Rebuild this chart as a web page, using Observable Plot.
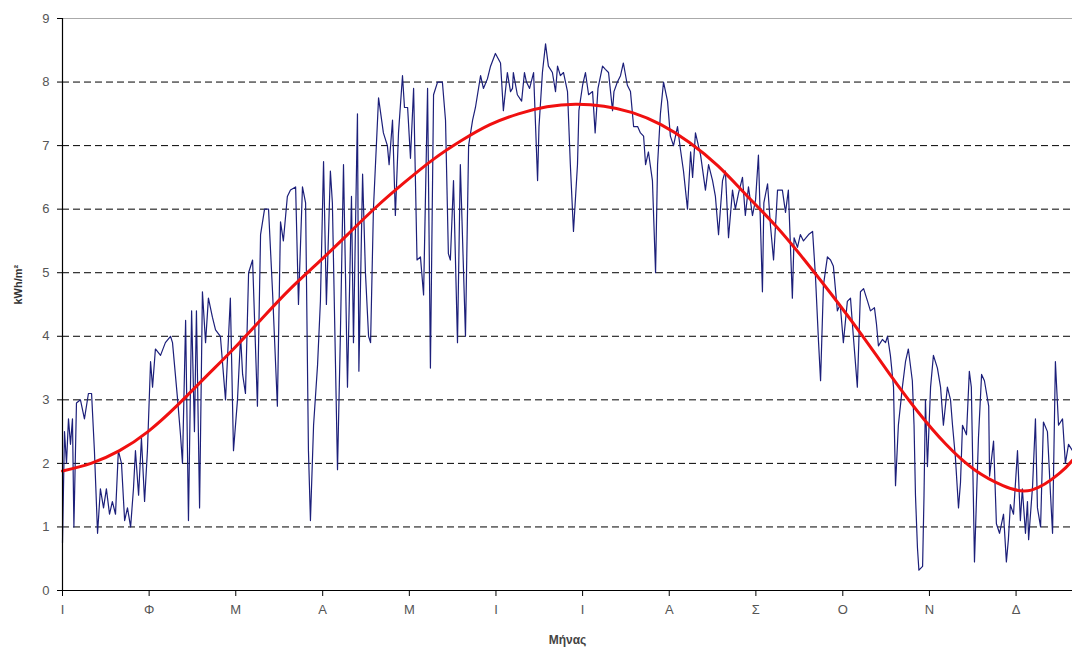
<!DOCTYPE html>
<html><head><meta charset="utf-8">
<script src="https://cdn.jsdelivr.net/npm/d3@7"></script>
<script src="https://cdn.jsdelivr.net/npm/@observablehq/plot@0.6"></script>
<style>
body{margin:0;background:#fff;font-family:"Liberation Sans",Arial,sans-serif;}
#chart svg{display:block;}
</style>
</head><body><div id="chart"></div>
<script>
// Month tick labels (Greek initials) and their positions (day of year)
const monthLabels = ["Ι","Φ","Μ","Α","Μ","Ι","Ι","Α","Σ","Ο","Ν","Δ"];
const monthDays = [0,30.4,60.8,91.3,121.7,152.1,182.5,212.9,243.3,273.8,304.2,334.6];
const yTicks = [0,1,2,3,4,5,6,7,8,9];
const gridValues = [1,2,3,4,5,6,7,8];

// Daily radiation trace (vertices): day of year, kWh/m²
const dailyDay = [0,0.7,1.4,2.1,2.8,3.5,4.0,4.9,6.3,7.7,9.1,10.2,11.2,12.3,13.3,14.4,15.4,16.5,17.5,18.6,19.6,20.7,21.8,22.8,23.9,24.9,25.6,26.7,27.7,28.8,29.8,
30.9,31.6,32.6,34.4,36.1,37.9,38.6,40.4,41.4,42.1,43.2,44.2,45.3,46.3,47.0,48.1,49.1,50.2,51.2,52.6,53.7,55.4,57.2,58.9,60.0,
61.4,62.5,63.2,64.2,65.3,66.7,68.4,69.5,70.9,72.3,73.7,75.4,76.5,77.5,78.9,80.0,81.8,82.8,84.2,85.3,86.3,87.0,88.1,89.5,90.5,
91.6,92.6,94.0,94.7,96.5,97.5,98.6,100.0,101.4,102.1,103.5,104.0,105.3,106.3,107.4,108.1,109.1,110.9,112.6,114.0,114.6,115.8,116.8,117.9,119.3,120.0,121.1,
122.1,123.2,124.4,125.6,126.7,128.1,129.1,130.2,131.6,133.3,134.4,135.4,136.1,137.2,138.6,139.6,141.4,142.5,143.9,144.9,146.7,147.7,149.1,150.2,151.9,
153.7,154.7,156.1,157.2,157.9,158.2,159.6,161.1,162.1,162.8,163.9,165.3,166.7,167.2,168.4,169.5,170.5,171.9,173.0,173.7,174.7,175.8,177.2,178.2,179.3,180.7,181.2,182.5,
183.5,184.6,186.0,186.9,187.9,189.5,190.5,191.6,193.0,193.5,194.7,195.8,196.8,198.2,199.3,200.4,201.8,202.8,203.9,204.6,205.6,207.0,208.1,208.8,209.8,210.9,212.3,
213.3,214.4,215.8,216.8,217.9,219.3,220.4,221.1,222.1,223.9,225.6,226.7,228.1,229.1,230.2,231.6,232.6,233.7,235.1,236.1,237.2,238.6,239.6,240.7,242.1,
243.2,244.2,245.6,246.1,247.4,248.4,249.5,250.9,252.6,253.7,254.7,256.1,256.7,257.9,258.9,260.0,261.8,263.2,264.2,265.3,266.0,267.0,268.4,269.5,270.5,271.9,272.9,
274.0,275.4,276.5,277.5,278.9,280.0,281.1,282.5,283.5,284.9,285.6,286.3,287.7,288.8,289.5,290.5,291.6,292.3,293.3,294.7,295.8,296.8,298.2,298.8,299.3,300.0,300.5,301.8,302.3,302.8,303.5,
304.6,305.6,307.0,308.1,309.1,310.5,311.6,312.3,313.3,314.4,315.1,315.8,317.2,318.2,318.9,319.6,320.0,321.4,322.5,323.5,325.0,325.3,326.7,327.7,328.8,330.2,331.2,331.9,332.6,333.7,
335.1,336.1,336.8,337.9,338.6,339.0,340.4,341.4,342.1,343.2,344.2,345.6,346.7,347.4,348.4,349.5,350.9,351.9,353.0,354.4];
const dailyValue = [0.75,2.5,2.0,2.7,2.3,2.7,1.0,2.95,3.0,2.7,3.1,3.1,2.2,0.9,1.6,1.3,1.6,1.2,1.4,1.2,2.2,2.0,1.1,1.3,1.0,1.6,2.2,1.5,2.4,1.4,2.2,
3.6,3.2,3.8,3.7,3.9,4.0,3.9,3.0,2.45,2.0,4.25,1.1,4.4,2.5,4.4,1.3,4.7,3.9,4.6,4.3,4.1,4.0,3.0,4.6,2.2,
3.0,4.0,3.4,3.1,5.0,5.2,2.9,5.6,6.0,6.0,4.7,2.9,5.8,5.5,6.2,6.3,6.35,4.5,6.35,6.1,2.2,1.1,2.6,3.55,4.55,
6.75,4.5,6.6,6.1,1.9,4.0,6.7,3.2,6.2,3.9,7.5,3.45,6.55,5.0,4.0,3.9,6.0,7.75,7.2,7.0,6.7,7.4,5.9,7.2,8.1,7.6,7.6,
6.8,7.9,5.2,5.25,4.65,7.9,3.5,7.8,8.0,8.0,7.4,5.3,5.2,6.45,3.9,6.7,4.0,7.0,7.4,7.6,8.1,7.9,8.05,8.25,8.45,
8.3,7.55,8.15,7.85,7.9,8.15,7.8,7.7,8.15,8.0,7.9,8.15,6.45,7.3,8.15,8.6,8.25,8.15,7.85,8.25,8.1,8.15,7.85,6.7,5.65,6.7,7.55,7.95,
8.15,7.8,7.85,7.2,7.9,8.25,8.2,8.15,7.55,7.85,8.0,8.1,8.3,7.95,7.85,7.3,7.3,7.2,7.15,6.7,6.9,6.45,5.0,6.7,7.5,8.0,7.7,
7.15,7.0,7.3,6.95,6.6,6.0,6.9,6.5,7.2,6.85,6.3,6.7,6.45,6.2,5.6,6.45,6.6,5.55,6.3,6.0,6.25,6.5,5.9,6.35,5.9,
6.15,6.85,4.7,6.1,6.4,5.75,5.2,6.3,6.3,5.95,6.3,4.6,5.55,5.4,5.6,5.5,5.6,5.65,4.95,3.9,3.3,4.8,5.25,5.2,5.1,4.4,4.5,
3.9,4.55,4.6,4.0,3.2,4.7,4.75,4.55,4.4,4.45,4.2,3.85,3.95,3.9,4.0,3.7,3.2,1.65,2.6,3.2,3.6,3.8,3.3,2.6,1.5,0.67,0.32,0.38,1.5,3.0,1.95,
3.2,3.7,3.5,3.2,2.6,3.2,3.0,2.6,2.1,1.3,1.7,2.6,2.45,3.45,3.2,1.5,0.45,2.4,3.4,3.3,2.9,1.8,2.35,1.05,0.9,1.2,0.45,0.8,1.35,1.2,
2.2,1.1,1.6,0.9,1.4,0.8,1.65,2.7,1.3,1.0,2.65,2.5,1.5,0.9,3.6,2.6,2.7,2.0,2.3,2.2];

// Smooth trend line (every 10 days)
const trendDay = [0,10,20,30,40,50,60,70,80,90,100,110,120,130,140,150,160,170,180,190,200,210,220,230,240,250,260,270,280,290,300,310,320,330,340,350,354.4];
const trendValue = [1.88,2.0,2.2,2.5,2.9,3.35,3.8,4.28,4.75,5.17,5.6,6.03,6.42,6.78,7.08,7.33,7.5,7.61,7.65,7.62,7.52,7.33,7.05,6.68,6.22,5.75,5.22,4.65,4.05,3.42,2.82,2.3,1.9,1.65,1.58,1.85,2.05];

const daily = dailyDay.map((d,i)=>({day:d, v:dailyValue[i]}));
const trend = trendDay.map((d,i)=>({day:d, v:trendValue[i]}));
const labelByDay = new Map(monthDays.map((d,i)=>[d, monthLabels[i]]));

const chart = Plot.plot({
  width: 1072, height: 657,
  marginTop: 18, marginBottom: 67, marginLeft: 62, marginRight: 0,
  style: {fontFamily: "Liberation Sans, Arial, sans-serif", background: "#fff"},
  x: {domain: [0, 354.4], axis: null},
  y: {domain: [0, 9], axis: null},
  marks: [
    Plot.ruleY(gridValues, {stroke: "#000", strokeWidth: 1, strokeDasharray: "7,4"}),
    Plot.ruleY([9], {stroke: "#aaa", strokeWidth: 1}),
    Plot.line(daily, {x: "day", y: "v", stroke: "#1c1f7a", strokeWidth: 1.2}),
    Plot.line(trend, {x: "day", y: "v", stroke: "#f01010", strokeWidth: 3, curve: "natural"}),
    Plot.ruleX([0], {stroke: "#000", strokeWidth: 1.2}),
    Plot.ruleY([0], {stroke: "#000", strokeWidth: 1.2}),
    Plot.axisY(yTicks, {anchor: "left", tickSize: 5, tickPadding: 8, fontSize: 13, fill: "#555", stroke: "#000", label: null, tickFormat: d => String(d)}),
    Plot.axisX(monthDays, {anchor: "bottom", tickSize: 6, tickPadding: 8, fontSize: 13, fill: "#555", stroke: "#000", label: null, tickFormat: d => labelByDay.get(d)}),
    Plot.text(["Μήνας"], {frameAnchor: "bottom", dy: 53, text: d => d, fontSize: 12, fontWeight: "bold", fill: "#444"}),
    Plot.text(["kWh/m²"], {frameAnchor: "left", dx: -44, rotate: -90, text: d => d, fontSize: 11, fontWeight: "bold", fill: "#333"})
  ]
});
document.getElementById("chart").appendChild(chart);
</script>
</body></html>
